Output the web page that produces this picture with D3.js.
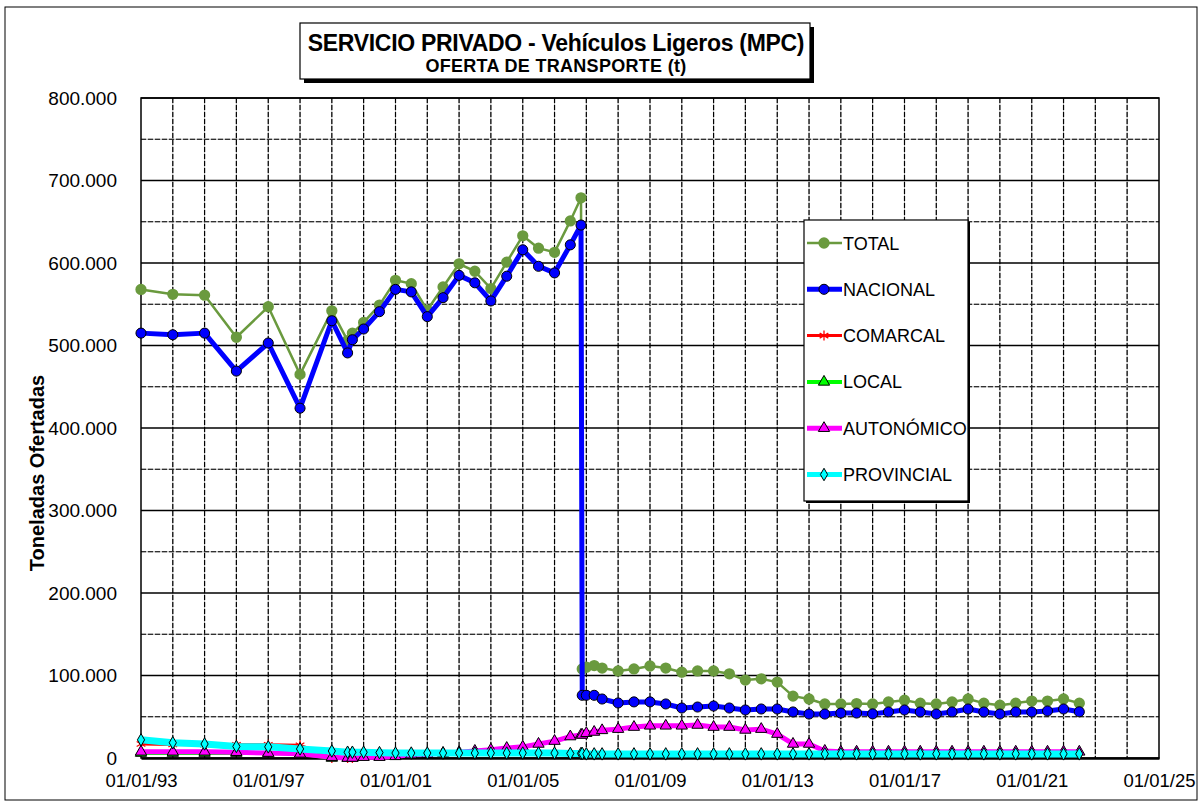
<!DOCTYPE html>
<html>
<head>
<meta charset="utf-8">
<script src="https://cdn.jsdelivr.net/npm/d3@7"></script>
<style>
  body { margin: 0; background: #fff; }
  text { font-family: "Liberation Sans", Arial, sans-serif; }
</style>
</head>
<body>
<div id="chart"></div>
<script>
// fechas de cada observación (compartidas por todas las series)
let dates = [
  "1993-01-01", "1994-01-01", "1995-01-01", "1996-01-01", "1997-01-01", "1998-01-01",
  "1999-01-01", "1999-07-01", "1999-08-25", "2000-01-01", "2000-07-01", "2001-01-01",
  "2001-07-01", "2002-01-01", "2002-07-01", "2003-01-01", "2003-07-01", "2004-01-01",
  "2004-07-01", "2005-01-01", "2005-07-01", "2006-01-01", "2006-07-01", "2006-11-01",
  "2006-11-15", "2007-01-01", "2007-04-01", "2007-07-01", "2008-01-01", "2008-07-01",
  "2009-01-01", "2009-07-01", "2010-01-01", "2010-07-01", "2011-01-01", "2011-07-01",
  "2012-01-01", "2012-07-01", "2013-01-01", "2013-07-01", "2014-01-01", "2014-07-01",
  "2015-01-01", "2015-07-01", "2016-01-01", "2016-07-01", "2017-01-01", "2017-07-01",
  "2018-01-01", "2018-07-01", "2019-01-01", "2019-07-01", "2020-01-01", "2020-07-01",
  "2021-01-01", "2021-07-01", "2022-01-01", "2022-07-01",
];

// toneladas ofertadas
let total = [
  568000, 562000, 561000, 510000, 547000, 465000, 542000, 506000, 515000, 528000,
  549000, 579000, 575000, 543000, 571000, 599000, 590000, 569000, 601000, 633000,
  618000, 613000, 651000, 679000, 108000, 110000, 112000, 109000, 105500, 108000,
  111500, 109000, 104000, 105500, 105500, 102000, 94500, 96000, 92000, 75000,
  71500, 65500, 65500, 66000, 65500, 68000, 70000, 66500, 65500, 68000,
  71500, 66500, 64000, 66500, 69000, 69000, 71500, 66500,
];
let nacional = [
  515000, 513000, 515000, 469000, 503000, 424000, 530000, 491000, 507000, 520000,
  541000, 568000, 565000, 535000, 558000, 585000, 576000, 554000, 584000, 616000,
  596000, 588000, 622000, 646000, 76000, 76000, 76000, 71500, 66700, 68000,
  68000, 65500, 60600, 61800, 63000, 60600, 58200, 59400, 59400, 55800,
  53300, 53300, 54500, 54500, 53500, 55800, 58200, 55800, 53300, 55800,
  59400, 55800, 53300, 55800, 55800, 57000, 59400, 56000,
];
let comarcal = [
  17000, 16500, 16000, 16000, 16000, 15500, 0, 0, 0,
];
let local = [
  6000, 6000, 6000, 6000, 6000, 5500, 0, 0, 0,
];
let autonomico = [
  7500, 7500, 7500, 7000, 6000, 5000, 1000, 0, 0, 1000,
  1000, 2000, 4000, 4500, 6000, 7000, 8500, 10000, 12000, 13500,
  17000, 20500, 26000, 28000, 28000, 30000, 31500, 33500, 35000, 37500,
  39000, 39000, 39000, 40000, 37500, 37500, 34000, 35000, 29000, 17000,
  17000, 8500, 7500, 7500, 7500, 7500, 7500, 7500, 7500, 7500,
  7500, 7500, 7500, 7500, 7500, 7500, 7500, 7500,
];
let provincial = [
  22000, 18500, 17000, 14000, 13500, 11000, 8500, 7000, 7000, 7000,
  6500, 6000, 6000, 6000, 6000, 6000, 6000, 6000, 6000, 6000,
  6000, 6000, 5500, 5500, 5500, 5000, 5000, 5000, 5000, 5000,
  5000, 5000, 5000, 5000, 5000, 5000, 5000, 5000, 5000, 5000,
  5000, 5000, 5000, 5000, 5000, 5000, 5000, 5000, 5000, 5000,
  5000, 5000, 5000, 5000, 5000, 5000, 5000, 5000,
];

let series_names = ["TOTAL", "NACIONAL", "COMARCAL", "LOCAL", "AUTONÓMICO", "PROVINCIAL"];
let y_ticks = [0, 100000, 200000, 300000, 400000, 500000, 600000, 700000, 800000];
let x_ticks = [
  "1993-01-01", "1997-01-01", "2001-01-01", "2005-01-01", "2009-01-01",
  "2013-01-01", "2017-01-01", "2021-01-01", "2025-01-01",
];

let opts = {
  width: 1204,
  height: 805,
  left: 141,
  right: 1159,
  top: 98,
  bottom: 758,
  font: '"Liberation Sans", Arial, sans-serif',
};

let styles = {
  TOTAL: { color: "#6a9a3e", width: 2.5, symbol: d3.symbolCircle, size: 100, outline: null },
  NACIONAL: { color: "#0000ff", width: 5, symbol: d3.symbolCircle, size: 80, outline: "#000" },
  COMARCAL: { color: "#ff0000", width: 3, symbol: d3.symbolAsterisk, size: 70, outline: "stroke" },
  LOCAL: { color: "#00ff00", width: 4, symbol: d3.symbolTriangle, size: 55, outline: "#000" },
  "AUTONÓMICO": { color: "#ff00ff", width: 5, symbol: d3.symbolTriangle, size: 55, outline: "#000" },
  PROVINCIAL: { color: "#00ffff", width: 7, symbol: d3.symbolDiamond, size: 45, outline: "#000" },
};

let parseDate = d3.timeParse("%Y-%m-%d");
let all_values = [total, nacional, comarcal, local, autonomico, provincial];
let chart_data = series_names.map((name, k) => ({
  name: name,
  points: dates
    .map((d, i) => ({ date: parseDate(d), value: all_values[k][i] }))
    .filter((p) => p.value != null),
}));

let svg = d3
  .select("#chart")
  .append("svg")
  .attr("width", opts.width)
  .attr("height", opts.height);

// marco exterior
svg.append("rect")
  .attr("x", 5).attr("y", 7)
  .attr("width", 1192).attr("height", 793)
  .attr("fill", "white").attr("stroke", "#000").attr("stroke-width", 1);

let x = d3
  .scaleTime()
  .domain([parseDate("1993-01-01"), parseDate("2025-01-01")])
  .range([opts.left, opts.right]);

let y = d3.scaleLinear().domain([0, 800000]).range([opts.bottom, opts.top]);

// rejilla
let grid = svg.append("g");
let years = d3.timeYear.range(parseDate("1994-01-01"), parseDate("2025-01-01"));
grid.selectAll(".vgrid-bg")
  .data(years)
  .join("line")
  .attr("x1", (d) => x(d)).attr("x2", (d) => x(d))
  .attr("y1", opts.top).attr("y2", opts.bottom)
  .attr("stroke", "#b0b0b0").attr("stroke-width", 1);
grid.selectAll(".vgrid")
  .data(years)
  .join("line")
  .attr("x1", (d) => x(d)).attr("x2", (d) => x(d))
  .attr("y1", opts.top).attr("y2", opts.bottom)
  .attr("stroke", "#000").attr("stroke-width", 1.2)
  .attr("stroke-dasharray", "5,2");

let minor = d3.range(50000, 800000, 100000);
grid.selectAll(".hminor-bg")
  .data(minor)
  .join("line")
  .attr("x1", opts.left).attr("x2", opts.right)
  .attr("y1", (d) => y(d)).attr("y2", (d) => y(d))
  .attr("stroke", "#b0b0b0");
grid.selectAll(".hminor")
  .data(minor)
  .join("line")
  .attr("x1", opts.left).attr("x2", opts.right)
  .attr("y1", (d) => y(d)).attr("y2", (d) => y(d))
  .attr("stroke", "#000").attr("stroke-width", 1.2).attr("stroke-dasharray", "5,2");
grid.selectAll(".hmajor")
  .data(y_ticks.slice(1))
  .join("line")
  .attr("x1", opts.left).attr("x2", opts.right)
  .attr("y1", (d) => y(d)).attr("y2", (d) => y(d))
  .attr("stroke", "#000").attr("stroke-width", 1.3);

// borde del área de trazado
svg.append("rect")
  .attr("x", opts.left).attr("y", opts.top)
  .attr("width", opts.right - opts.left).attr("height", opts.bottom - opts.top)
  .attr("fill", "none").attr("stroke", "#000").attr("stroke-width", 1.5);

// ejes
let fmt = (d) => (d === 0 ? "0" : d3.format(",")(d).replace(/,/g, "."));
let yAxis = svg.append("g")
  .attr("transform", `translate(${opts.left},0)`)
  .call(d3.axisLeft(y).tickValues(y_ticks).tickSize(0).tickPadding(24).tickFormat(fmt));
yAxis.select(".domain").remove();
yAxis.selectAll("text").attr("font-size", 19).attr("fill", "#000")
  .style("font-family", opts.font);

let xAxis = svg.append("g")
  .attr("transform", `translate(0,${opts.bottom})`)
  .call(
    d3.axisBottom(x)
      .tickValues(x_ticks.map(parseDate))
      .tickSize(0)
      .tickPadding(16)
      .tickFormat(d3.timeFormat("%d/%m/%y"))
  );
xAxis.select(".domain").attr("stroke", "#000").attr("stroke-width", 2.5);
xAxis.selectAll("text").attr("font-size", 18.5).attr("fill", "#000")
  .style("font-family", opts.font);

svg.append("text")
  .attr("transform", "translate(44,473) rotate(-90)")
  .attr("text-anchor", "middle")
  .attr("font-size", 20)
  .attr("font-weight", "bold")
  .text("Toneladas Ofertadas");

// series
let line = d3.line()
  .x((d) => x(d.date))
  .y((d) => y(d.value));

function drawMarker(sel, st) {
  let sym = d3.symbol().type(st.symbol).size(st.size);
  if (st.outline === "stroke") {
    sel.attr("d", sym).attr("fill", "none").attr("stroke", st.color).attr("stroke-width", 1.3);
  } else {
    sel.attr("d", sym)
      .attr("fill", st.color)
      .attr("stroke", st.outline || "none")
      .attr("stroke-width", 1);
  }
}

chart_data.forEach((s) => {
  let st = styles[s.name];
  let g = svg.append("g");
  g.append("path")
    .datum(s.points)
    .attr("d", line)
    .attr("fill", "none")
    .attr("stroke", st.color)
    .attr("stroke-width", st.width)
    .attr("stroke-linejoin", "round");
  g.selectAll("path.mk")
    .data(s.points)
    .join("path")
    .attr("class", "mk")
    .attr("transform", (d) => `translate(${x(d.date)},${y(d.value)})`)
    .call((sel) => drawMarker(sel, st));
});

// leyenda
let legend = svg.append("g").attr("transform", "translate(804,220)");
legend.append("rect")
  .attr("x", 2).attr("y", 2).attr("width", 164).attr("height", 281).attr("fill", "#000");
legend.append("rect")
  .attr("x", 0).attr("y", 0).attr("width", 164).attr("height", 281)
  .attr("fill", "white").attr("stroke", "#000").attr("stroke-width", 1.2);
series_names.forEach((name, i) => {
  let st = styles[name];
  let ly = 23 + i * 46.3;
  legend.append("line")
    .attr("x1", 3).attr("x2", 38).attr("y1", ly).attr("y2", ly)
    .attr("stroke", st.color).attr("stroke-width", st.width > 5 ? 5 : st.width);
  legend.append("path")
    .attr("transform", `translate(20,${ly})`)
    .call((sel) => drawMarker(sel, st));
  legend.append("text")
    .attr("x", 39).attr("y", ly + 6.5)
    .attr("font-size", 18)
    .text(name);
});

// título
let title = svg.append("g");
title.append("rect")
  .attr("x", 304).attr("y", 27).attr("width", 510).attr("height", 56).attr("fill", "#000");
title.append("rect")
  .attr("x", 300).attr("y", 23).attr("width", 510).attr("height", 56)
  .attr("fill", "white").attr("stroke", "#000").attr("stroke-width", 1.2);
title.append("text")
  .attr("x", 556).attr("y", 51)
  .attr("text-anchor", "middle")
  .attr("font-size", 23).attr("font-weight", "bold")
  .attr("letter-spacing", -0.3)
  .text("SERVICIO PRIVADO - Vehículos Ligeros (MPC)");
title.append("text")
  .attr("x", 556).attr("y", 72)
  .attr("text-anchor", "middle")
  .attr("font-size", 18).attr("font-weight", "bold")
  .attr("letter-spacing", 0.3)
  .text("OFERTA DE TRANSPORTE (t)");
</script>
</body>
</html>
